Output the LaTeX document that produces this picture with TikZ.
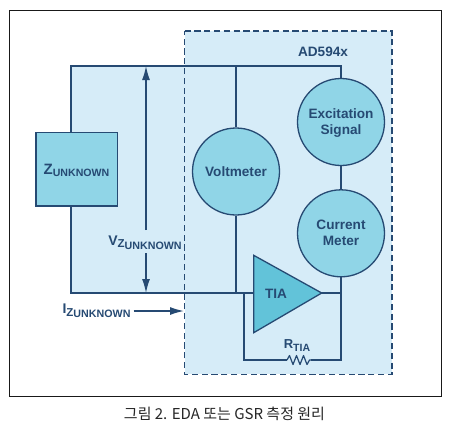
\documentclass[tikz,border=0pt]{standalone}
\usepackage{fontspec}
\setmainfont{Liberation Sans}
\newfontfamily\cjk{Noto Sans CJK KR}
\usetikzlibrary{arrows.meta}
\definecolor{navy}{HTML}{264A73}
\definecolor{pale}{HTML}{D6ECF8}
\definecolor{mid}{HTML}{90D5E7}
\definecolor{tri}{HTML}{62C3D9}
\tikzset{
  wire/.style={draw=navy,line width=1.2pt},
  blob/.style={circle,draw=navy,line width=1.3pt,fill=mid,minimum size=87pt,inner sep=0pt,align=center},
  lbl/.style={text=navy,font=\fontsize{13.6}{16}\selectfont\bfseries,inner sep=0pt,align=center},
  arr/.style={draw=navy,line width=1.4pt,-{Latex[length=14pt,width=8pt]}},
}
\newcommand{\zsub}[2]{{\fontsize{#1}{#1}\selectfont #2}}
\newcommand{\twolevel}[1]{\fontsize{14}{16}\selectfont #1\raisebox{-2.5pt}{\fontsize{11.5}{11}\selectfont Z\raisebox{-1.5pt}{\zsub{10.7}{UNKNOWN}}}}
\begin{document}
\begin{tikzpicture}[x=1pt,y=-1pt]
\useasboundingbox (0,0) rectangle (462,429);
\fill[white] (0,0) rectangle (462,429);
\node[draw=black!90,line width=1pt,minimum width=432pt,minimum height=386pt,inner sep=0pt,anchor=north west] (frame) at (8.5,9.5) {};
\node[draw=none,fill=pale,minimum width=207pt,minimum height=343pt,inner sep=0pt,anchor=north west] (chip) at (184.5,31) {};
\fill[pale] (71,66) rectangle (184.5,293);
\draw[draw=navy,line width=1.5pt,dash pattern=on 6.2pt off 3.6pt] (chip.north west) -- (chip.north east) -- (chip.south east) -- (chip.south west) -- cycle;
\coordinate (tl) at (71,66);
\coordinate (bl) at (71,293);
\coordinate (tvm) at (236,66);
\coordinate (tex) at (341,66);
\coordinate (bvm) at (236,293);
\coordinate (vtop) at (146,66);
\coordinate (vbot) at (146,293);
\coordinate (vgt) at (146,230);
\coordinate (vgb) at (146,253);
\coordinate (fbl) at (244,293);
\coordinate (fbb) at (244,360);
\coordinate (fbr) at (341,360);
\coordinate (outn) at (341,293);
\coordinate (rl) at (287,360);
\coordinate (rr) at (311,360);
\coordinate (ifrom) at (133.7,311);
\coordinate (ito) at (184,311);
\coordinate (tipt) at (321.7,293);
\node[draw=navy,fill=mid,line width=1.6pt,minimum width=81.5pt,minimum height=73.5pt,inner sep=0pt] (z) at (76.7,169.2) {};
\node[blob] (vm) at (236,171.5) {};
\node[blob] (ex) at (341,122) {};
\node[blob] (cm) at (341,233.3) {};
\draw[wire] (z.north -| tl) -- (tl) -- (tex) -- (ex.north);
\draw[wire] (z.south -| bl) -- (bl) -- (outn);
\draw[wire] (tvm) -- (vm.north);
\draw[wire] (vm.south) -- (bvm);
\draw[wire] (ex.south) -- (cm.north);
\draw[wire] (cm.south) -- (fbr) -- (rr);
\draw[wire] (fbl) -- (fbb) -- (rl);
\draw[wire,line join=round] (rl) -- ++(2.5,-4.5) -- ++(3.5,9) -- ++(3.5,-9) -- ++(3.5,9) -- ++(3.5,-9) -- ++(3.5,9) -- ++(2.5,-4.5) -- (rr);
\draw[wire,fill=tri,line width=1.3pt,line join=miter] (253.7,255.3) -- (tipt) -- (253.7,332.7) -- cycle;
\node[lbl] (tia) at (276,293.5) {TIA};
\node[lbl] (vmt) at (236,172) {Voltmeter};
\node[lbl] (ext) at (341,123) {Excitation\\[0pt]Signal};
\node[lbl] (cmt) at (341,233.3) {Current\\[0pt]Meter};
\node[lbl] (ad) at (323,52) {AD594x};
\node[lbl] (zt) at (76.5,170.5) {\fontsize{15}{16}\selectfont Z\raisebox{-2.5pt}{\zsub{10.6}{UNKNOWN}}};
\node[lbl] (vt) at (145,242.5) {\twolevel{V}};
\node[lbl] (it) at (96.5,311) {\twolevel{I}};
\node[lbl] (rt) at (297,345.5) {\fontsize{13}{16}\selectfont R\raisebox{-2.5pt}{\zsub{10.5}{TIA}}};
\draw[arr] (vgt) -- (vtop);
\draw[arr] (vgb) -- (vbot);
\draw[arr] (ifrom) -- (ito);
\node[inner sep=0pt,text=black!85,font=\cjk\fontsize{15}{16}\selectfont] (cap) at (224.5,414) {그림 2. EDA 또는 GSR 측정 원리};
\end{tikzpicture}
\end{document}
